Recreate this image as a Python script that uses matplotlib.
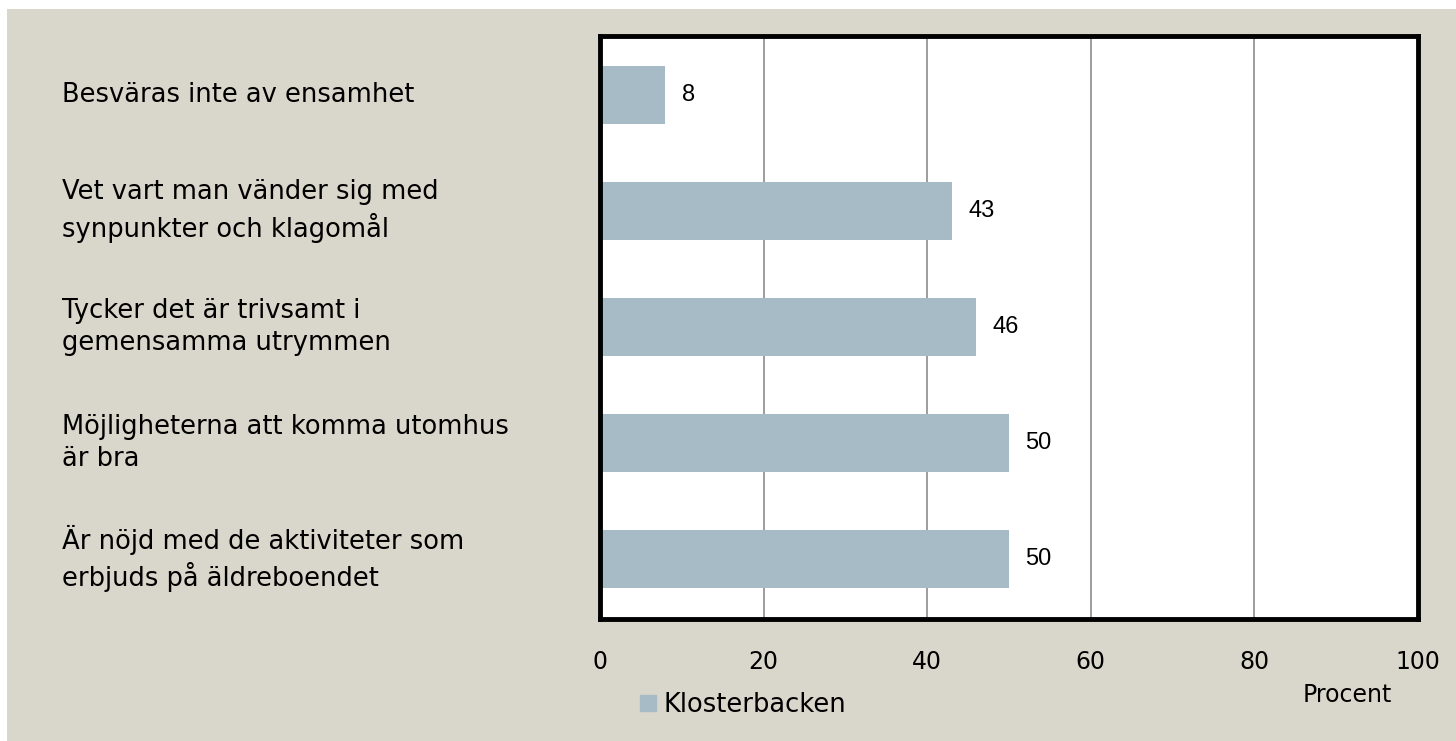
import matplotlib
matplotlib.use("Agg")
import matplotlib.pyplot as plt
from matplotlib.patches import Rectangle, Patch

categories = [
    "Besväras inte av ensamhet",
    "Vet vart man vänder sig med\nsynpunkter och klagomål",
    "Tycker det är trivsamt i\ngemensamma utrymmen",
    "Möjligheterna att komma utomhus\när bra",
    "Är nöjd med de aktiviteter som\nerbjuds på äldreboendet",
]
values = [8, 43, 46, 50, 50]
series_name = "Klosterbacken"
xticks = [0, 20, 40, 60, 80, 100]

bg = "#d9d7cb"
bar_color = "#a7bbc6"
plt.rcParams["font.family"] = ["DejaVu Sans"]

W, H = 1456, 741
fig = plt.figure(figsize=(W / 100, H / 100), dpi=100)
fig.patch.set_facecolor("white")
fig.patches.append(Rectangle((7 / W, 0), 1 - 7 / W, 1 - 9 / H, transform=fig.transFigure,
                             facecolor=bg, edgecolor="none", zorder=-10))

left, right, top, bottom = 600, 1418, 36, 619
ax = fig.add_axes([left / W, 1 - bottom / H, (right - left) / W, (bottom - top) / H])
ax.set_facecolor("white")

ypos = list(range(len(categories)))
ax.barh(ypos, values, height=0.5, color=bar_color, zorder=2)
for y, v in zip(ypos, values):
    ax.text(v + 2.0, y, str(v), va="center", ha="left", fontsize=17,
            family="Liberation Sans", color="black")

ax.set_xlim(0, 100)
ax.set_ylim(4.52, -0.51)
ax.set_xticks(xticks)
ax.set_xticklabels([str(t) for t in xticks], fontsize=17)
ax.tick_params(axis="x", length=0, pad=22)
ax.set_yticks([])
ax.grid(axis="x", color="#8c8c8c", linewidth=1.2, zorder=1)
for s in ax.spines.values():
    s.set_linewidth(3.5)
    s.set_color("black")

for y, label in zip(ypos, categories):
    ax.annotate(label, xy=(0, y), xycoords=("figure fraction", "data"),
                xytext=(62, 0), textcoords="offset pixels",
                va="center", ha="left", fontsize=18.5, linespacing=1.3)

fig.text(1303 / W, 1 - 695 / H, "Procent", fontsize=17, va="center", ha="left")
fig.legend(handles=[Patch(color=bar_color, label=series_name)],
           loc="center left", bbox_to_anchor=(630 / W, 1 - 705 / H),
           frameon=False, fontsize=18.5, handlelength=0.6, handleheight=0.6,
           handletextpad=0.3, borderaxespad=0)

fig.savefig("out.png", dpi=100, facecolor=fig.get_facecolor())
